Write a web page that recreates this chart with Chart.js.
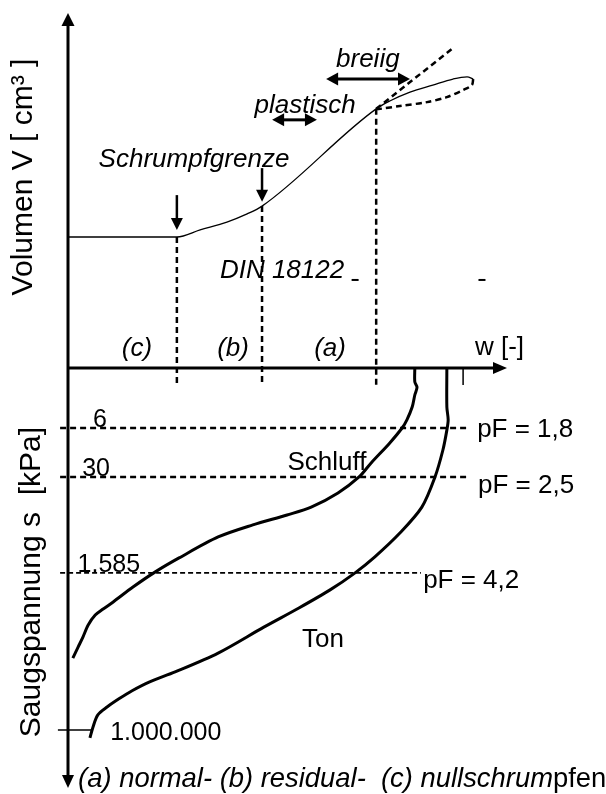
<!DOCTYPE html>
<html>
<head>
<meta charset="utf-8">
<script src="https://cdn.jsdelivr.net/npm/chart.js@4.4.1/dist/chart.umd.min.js"></script>
<style>
  body { margin: 0; background: #fff; }
  #wrap { width: 606px; height: 794px; }
</style>
</head>
<body>
<div id="wrap"><canvas id="diagram" width="606" height="794"></canvas></div>
<script>
// diagram units: w along the axis (0..100), V above the w axis, suction depth below it (negative)
const volumeW = [0, 24.8, 30.1, 36.2, 40.8, 44.2, 70.2, 73.3, 77.9, 83.1, 87.7, 90.9, 92.3];
const volumeV = [36.9, 36.9, 38.9, 41.1, 43.4, 45.6, 73.0, 75.2, 77.7, 79.7, 81.4, 82.0, 81.4];
const returnW = [92.3, 92.0, 90.0, 86.3, 81.8, 75.6, 71.1, 70.2];
const returnV = [81.4, 79.7, 78.3, 76.3, 74.9, 73.8, 73.0, 73.0];
const extensionW = [70.2, 87.7];
const extensionV = [73.0, 90.1];
const limitW = [24.8, 44.2, 70.2];
const limitV = [36.9, 45.6, 73.0];
const regionLabels = ['(c)', '(b)', '(a)'];

const suctionTicks = ['6', '30', '1.585', '1.000.000'];
const suctionDepth = [-16.9, -30.7, -57.7, -102.0];
const pfLabels = ['pF = 1,8', 'pF = 2,5', 'pF = 4,2'];

const schluffW = [79.0, 79.0, 79.5, 79.0, 78.4, 77.2, 76.1, 73.3, 69.0, 66.3, 61.5, 55.4, 49.9, 42.1, 34.2, 25.3, 19.8, 14.8, 10.3, 8.0, 6.2, 4.6, 3.4, 2.3, 1.1];
const schluffS = [0, -3.9, -5.4, -7.6, -11.0, -14.6, -16.9, -21.1, -26.8, -30.7, -35.2, -39.2, -41.4, -44.2, -47.6, -53.5, -57.5, -61.7, -65.9, -67.9, -69.6, -72.4, -75.8, -78.6, -81.7];
const tonW = [86.3, 86.3, 86.6, 86.3, 85.4, 83.6, 80.6, 75.6, 69.9, 65.4, 59.7, 52.6, 44.6, 34.2, 24.4, 18.6, 14.6, 11.6, 8.9, 6.8, 5.7, 5.0];
const tonS = [0, -11.0, -14.6, -17.5, -23.1, -30.7, -39.2, -46.5, -53.2, -57.7, -62.5, -67.6, -73.0, -80.3, -85.6, -88.4, -90.9, -93.2, -95.5, -97.7, -101.1, -104.2];

const FONT = '"Liberation Sans", Arial, sans-serif';

function pts(xs, ys) {
    return xs.map((x, i) => ({ x: x, y: ys[i] }));
}

function line(data, width, dash, tension) {
    return {
        data: data,
        showLine: true,
        borderColor: '#000',
        borderWidth: width,
        borderDash: dash || [],
        pointRadius: 0,
        tension: tension || 0,
        clip: false
    };
}

let datasets = [];

// volume curve (solid) and the wet end loop
let vol = line(pts(volumeW, volumeV), 1.3, null, 0.3);
vol.cubicInterpolationMode = 'monotone';
datasets.push(vol);
datasets.push(line(pts(returnW, returnV), 2.5, [6, 4], 0.3));
datasets.push(line(pts(extensionW, extensionV), 2.5, [6, 4]));

// limit lines down to just below the w axis
limitW.forEach((w, i) => {
    datasets.push(line([{ x: w, y: limitV[i] }, { x: w, y: -4.8 }], 2.5, [6, 4]));
});

// suction levels
const levelEnd = [91.1, 90.7, 80.4];
suctionDepth.forEach((s, i) => {
    if (i < 2) datasets.push(line([{ x: -1.8, y: s }, { x: levelEnd[i], y: s }], 2.5, [6, 4]));
    else if (i === 2) datasets.push(line([{ x: -1.8, y: s }, { x: levelEnd[i], y: s }], 1.6, [5, 3]));
    else datasets.push(line([{ x: -2.3, y: s }, { x: 5.5, y: s }], 1.5));
});

// retention curves
datasets.push(line(pts(schluffW, schluffS), 3, null, 0.3));
datasets.push(line(pts(tonW, tonS), 3, null, 0.3));

// small tick under the axis
datasets.push(line([{ x: 90.0, y: 0 }, { x: 90.0, y: -4.8 }], 1.5));

const diagramPlugin = {
    id: 'diagram',
    afterDatasetsDraw(chart) {
        const ctx = chart.ctx;
        const X = v => chart.scales.x.getPixelForValue(v);
        const Y = v => chart.scales.y.getPixelForValue(v);

        ctx.save();
        ctx.strokeStyle = '#000';
        ctx.fillStyle = '#000';

        // axes
        ctx.lineWidth = 3;
        ctx.beginPath();
        ctx.moveTo(X(0), Y(97));
        ctx.lineTo(X(0), Y(-115));
        ctx.moveTo(X(0), Y(0));
        ctx.lineTo(X(97), Y(0));
        ctx.stroke();

        function head(tx, ty, dx, dy, len, half) {
            // filled triangle pointing in direction (dx, dy)
            const bx = tx - dx * len, by = ty - dy * len;
            ctx.beginPath();
            ctx.moveTo(tx, ty);
            ctx.lineTo(bx - dy * half, by + dx * half);
            ctx.lineTo(bx + dy * half, by - dx * half);
            ctx.closePath();
            ctx.fill();
        }
        head(X(0), Y(100), 0, -1, 13, 6.5);
        head(X(0), Y(-118.3), 0, 1, 13, 6);
        head(X(100), Y(0), 1, 0, 14, 6);

        // down arrows at the shrinkage limits
        ctx.lineWidth = 2.5;
        [[24.8, 48.7, 38.9], [44.2, 56.3, 46.8]].forEach(a => {
            ctx.beginPath();
            ctx.moveTo(X(a[0]), Y(a[1]));
            ctx.lineTo(X(a[0]), Y(a[2]) - 10);
            ctx.stroke();
            head(X(a[0]), Y(a[2]), 0, 1, 12, 6);
        });

        // double arrows
        ctx.lineWidth = 3;
        [[58.8, 77.9, 81.4], [46.5, 56.7, 69.9]].forEach(a => {
            ctx.beginPath();
            ctx.moveTo(X(a[0]) + 8, Y(a[2]));
            ctx.lineTo(X(a[1]) - 8, Y(a[2]));
            ctx.stroke();
            head(X(a[0]), Y(a[2]), -1, 0, 12, 6.5);
            head(X(a[1]), Y(a[2]), 1, 0, 12, 6.5);
        });

        // short dashes near DIN 18122
        ctx.lineWidth = 2;
        [65.4, 94.3].forEach(w => {
            ctx.beginPath();
            ctx.moveTo(X(w) - 3.5, Y(24.8));
            ctx.lineTo(X(w) + 3.5, Y(24.8));
            ctx.stroke();
        });

        function text(str, x, y, font, align) {
            ctx.font = font;
            ctx.textAlign = align || 'left';
            ctx.textBaseline = 'alphabetic';
            ctx.fillText(str, x, y);
        }
        const it = 'italic 26px ' + FONT;
        const up = '26px ' + FONT;
        const num = '25px ' + FONT;

        text('breiig', X(68.3), Y(84.8), it, 'center');
        text('plastisch', X(54.0), Y(71.8), it, 'center');
        text('Schrumpfgrenze', X(28.7), Y(56.6), it, 'center');
        text('DIN 18122', X(34.6), Y(25.4), it, 'left');
        const regionX = [15.7, 37.6, 59.7];
        regionLabels.forEach((l, i) => text(l, X(regionX[i]), Y(3.4), it, 'center'));
        text('w [-]', X(92.7), Y(3.7), up, 'left');

        const tickX = [7.3, 6.4, 9.3];
        suctionTicks.forEach((l, i) => {
            if (i < 3) text(l, X(tickX[i]), Y(suctionDepth[i]) - 1, num, 'center');
            else text(l, X(9.6), Y(-104.8), num, 'left');
        });
        const pfX = [93.2, 93.4, 80.9];
        const pfY = [-19.4, -35.2, -62.0];
        pfLabels.forEach((l, i) => text(l, X(pfX[i]), Y(pfY[i]), up, 'left'));

        text('Schluff', X(59.0), Y(-28.7), up, 'center');
        text('Ton', X(58.1), Y(-78.6), up, 'center');

        // bottom caption, last syllable upright
        const capFont = 'italic 27.4px ' + FONT;
        const cap = '(a) normal- (b) residual-  (c) nullschrum';
        text(cap, X(2.3), Y(-118.0), capFont, 'left');
        ctx.font = capFont;
        const capW = ctx.measureText(cap).width;
        text('pfen', X(2.3) + capW, Y(-118.0), '27.4px ' + FONT, 'left');

        // rotated axis titles
        function vtext(str, x, y) {
            ctx.save();
            ctx.translate(x, y);
            ctx.rotate(-Math.PI / 2);
            ctx.font = '30px ' + FONT;
            ctx.textAlign = 'center';
            ctx.textBaseline = 'middle';
            ctx.fillText(str, 0, 0);
            ctx.restore();
        }
        vtext('Volumen V [ cm³ ]', X(-10.0), Y(53.8));
        vtext('Saugspannung s  [kPa]', X(-8.2), Y(-60.3));

        ctx.restore();
    }
};

new Chart(document.getElementById('diagram'), {
    type: 'scatter',
    data: { datasets: datasets },
    options: {
        responsive: false,
        animation: false,
        layout: { padding: { left: 68, right: 99, top: 13, bottom: 0 } },
        scales: {
            x: { type: 'linear', min: 0, max: 100, display: false },
            y: { type: 'linear', min: -120, max: 100, display: false }
        },
        plugins: { legend: { display: false }, tooltip: { enabled: false } }
    },
    plugins: [diagramPlugin]
});
</script>
</body>
</html>
